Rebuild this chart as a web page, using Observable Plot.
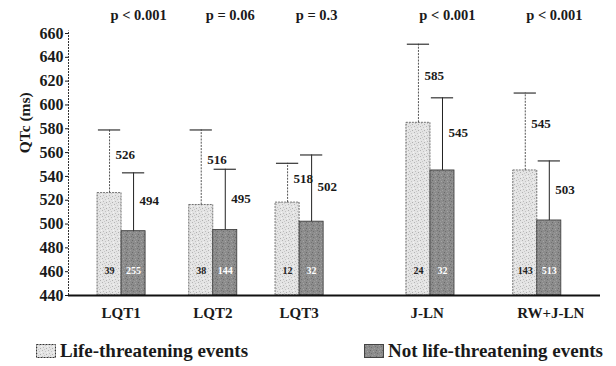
<!DOCTYPE html>
<html>
<head>
<meta charset="utf-8">
<script src="https://cdn.jsdelivr.net/npm/d3@7"></script>
<script src="https://cdn.jsdelivr.net/npm/@observablehq/plot@0.6"></script>
<style>
  body { margin: 0; background: #fff; font-family: "Times New Roman", "Liberation Serif", "DejaVu Serif", Times, serif; }
  #legend { position: relative; width: 616px; height: 36px; font-weight: bold; font-size: 19px; line-height: 20px; color: #1a1a1a; }
  .item { position: absolute; top: 11px; display: flex; align-items: center; height: 20px; white-space: nowrap; }
  .sw { width: 20px; height: 14px; margin-right: 4px; }
</style>
</head>
<body>
<div id="chart"></div>
<div id="legend">
  <div class="item" style="left:36px"><svg class="sw" width="20" height="14"><rect x="0.5" y="0.5" width="19" height="13" fill="url(#pl)" stroke="#333" stroke-dasharray="2,1"/></svg>Life-threatening events</div>
  <div class="item" style="left:364px"><svg class="sw" width="20" height="14"><rect x="0.5" y="0.5" width="19" height="13" fill="url(#pd)" stroke="#444"/></svg>Not life-threatening events</div>
</div>
<svg width="0" height="0" style="position:absolute">
  <defs>
    <pattern id="pl" width="6" height="6" patternUnits="userSpaceOnUse">
      <rect width="6" height="6" fill="#e4e4e4"/>
      <rect x="0" y="0" width="1" height="1" fill="#b4b4b4"/>
      <rect x="3" y="1" width="1" height="1" fill="#c4c4c4"/>
      <rect x="1" y="3" width="1" height="1" fill="#bcbcbc"/>
      <rect x="4" y="4" width="1" height="1" fill="#b0b0b0"/>
      <rect x="5" y="2" width="1" height="1" fill="#f4f4f4"/>
      <rect x="2" y="5" width="1" height="1" fill="#c8c8c8"/>
    </pattern>
    <pattern id="pd" width="6" height="6" patternUnits="userSpaceOnUse">
      <rect width="6" height="6" fill="#8c8c8c"/>
      <rect x="0" y="0" width="1" height="1" fill="#6a6a6a"/>
      <rect x="3" y="1" width="1" height="1" fill="#a6a6a6"/>
      <rect x="1" y="3" width="1" height="1" fill="#707070"/>
      <rect x="4" y="4" width="1" height="1" fill="#a0a0a0"/>
      <rect x="5" y="2" width="1" height="1" fill="#747474"/>
      <rect x="2" y="5" width="1" height="1" fill="#9c9c9c"/>
    </pattern>
  </defs>
</svg>
<script>
// ---- data ----
const groups = ["LQT1", "LQT2", "LQT3", "J-LN", "RW+J-LN"];
const lifeMean = [526, 516, 518, 585, 545];
const lifeSD = [53, 63, 33, 66, 65];
const lifeN = [39, 38, 12, 24, 143];
const notMean = [494, 495, 502, 545, 503];
const notSD = [49, 51, 56, 61, 50];
const notN = [255, 144, 32, 32, 513];
const pValues = ["p < 0.001", "p = 0.06", "p = 0.3", "p < 0.001", "p < 0.001"];
const yTicks = [440, 460, 480, 500, 520, 540, 560, 580, 600, 620, 640, 660];
const yTitle = "QTc (ms)";

// ---- layout (group slots along x, with a wider gap before J-LN) ----
const groupSlot = [0, 1.03, 2.0, 3.47, 4.67];
const xMin = -0.596, xMax = 5.38;
const barW = 0.27;
const FONT = "'Times New Roman', 'Liberation Serif', 'DejaVu Serif', Times, serif";

const rows = [];
groups.forEach((g, i) => {
  rows.push({g, series: "life", mean: lifeMean[i], sd: lifeSD[i], n: lifeN[i], c: groupSlot[i] - barW / 2, x1: groupSlot[i] - barW, x2: groupSlot[i], k: 0.6});
  rows.push({g, series: "not", mean: notMean[i], sd: notSD[i], n: notN[i], c: groupSlot[i] + barW / 2, x1: groupSlot[i], x2: groupSlot[i] + barW, k: 0.52});
});
const life = rows.filter(d => d.series === "life");
const not = rows.filter(d => d.series === "not");
const groupRows = groups.map((g, i) => ({g, slot: groupSlot[i], left: groupSlot[i] - barW, p: pValues[i]}));

const LIGHT = "#e3e3e3", DARK = "#8b8b8b";

const chart = Plot.plot({
  width: 616,
  height: 330,
  marginLeft: 68,
  marginRight: 16,
  marginTop: 33,
  marginBottom: 35,
  style: {fontFamily: FONT, fontWeight: "bold", fontSize: "16px", color: "#1a1a1a", background: "#fff"},
  x: {domain: [xMin, xMax], axis: null},
  y: {domain: [440, 660], ticks: yTicks, tickSize: 3, tickPadding: 2, tickFormat: d => String(d), label: null},
  marks: [
    // bars
    Plot.rectY(life, {x1: "x1", x2: "x2", y1: 440, y2: "mean", fill: LIGHT, stroke: "#555", strokeWidth: 0.8, strokeDasharray: "2,1"}),
    Plot.rectY(not, {x1: "x1", x2: "x2", y1: 440, y2: "mean", fill: DARK, stroke: "#333", strokeWidth: 0.8}),
    // error bars
    Plot.ruleX(life, {x: "c", y1: "mean", y2: d => d.mean + d.sd, stroke: "#555", strokeWidth: 1, strokeDasharray: "2,1.2"}),
    Plot.ruleX(not, {x: "c", y1: "mean", y2: d => d.mean + d.sd, stroke: "#222", strokeWidth: 1}),
    Plot.ruleY(rows, {y: d => d.mean + d.sd, x1: d => d.c - 0.125, x2: d => d.c + 0.125, stroke: "#333", strokeWidth: 1.2}),
    // mean labels
    Plot.text(rows, {x: "c", y: d => d.mean + d.k * d.sd, text: d => String(d.mean), textAnchor: "start", dx: 6, fontSize: 13, fontWeight: "bold", fill: "#1a1a1a", fontFamily: FONT}),
    // counts inside bars
    Plot.text(life, {x: "c", y: 461, text: d => String(d.n), fontSize: 10, fontWeight: "bold", fill: "#222", fontFamily: FONT}),
    Plot.text(not, {x: "c", y: 461, text: d => String(d.n), fontSize: 10, fontWeight: "bold", fill: "#fff", fontFamily: FONT}),
    // p values
    Plot.text(groupRows, {x: "slot", y: 675, text: "p", dx: 17, fontSize: 14.5, fontWeight: "bold", fill: "#1a1a1a", fontFamily: FONT}),
    // category labels
    Plot.text(groupRows, {x: "left", y: 440, dy: 18, text: "g", textAnchor: "start", dx: 4, fontSize: 15, fontWeight: "bold", fill: "#1a1a1a", fontFamily: FONT}),
    // axis lines
    Plot.ruleX([xMin], {y1: 440, y2: 662, stroke: "#333", strokeWidth: 1, strokeDasharray: "2,1"}),
    Plot.ruleY([440], {x1: xMin, x2: xMax, stroke: "#111", strokeWidth: 2}),
    // y title
    Plot.text([yTitle], {frameAnchor: "left", y: 585, text: d => d, rotate: -90, textAnchor: "middle", dx: -43, fontSize: 15.5, fontWeight: "bold", fill: "#1a1a1a", fontFamily: FONT})
  ]
});
d3.select(chart).selectAll(`g[fill="${LIGHT}"]`).attr("fill", "url(#pl)");
d3.select(chart).selectAll(`g[fill="${DARK}"]`).attr("fill", "url(#pd)");
document.getElementById("chart").appendChild(chart);
</script>
</body>
</html>
